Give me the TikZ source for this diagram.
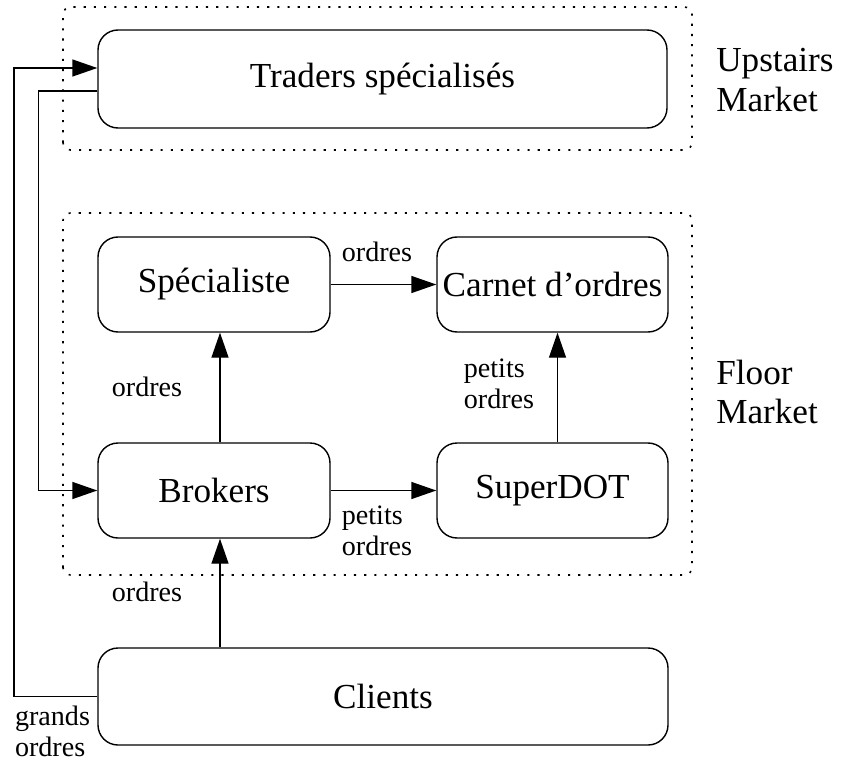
\documentclass[tikz,border=0pt]{standalone}
\usepackage{fontspec}
\setmainfont{Liberation Serif}
\usetikzlibrary{positioning,calc,arrows.meta}

\begin{document}
\begin{tikzpicture}[bloc/.style={draw,line width=0.8pt,rounded corners=0.4cm,inner sep=0pt,minimum height=1.9cm,font=\fontsize{20}{22}\selectfont},
	zone/.style={line width=0.9pt,dash pattern=on 1.2pt off 4.6pt,rounded corners=0.15cm},
	fleche/.style={line width=0.8pt,-{Triangle[length=5mm,width=3.4mm]}},
	lbl/.style={font=\fontsize{16}{17.5}\selectfont,align=left,inner sep=0pt},
	marche/.style={font=\fontsize{20}{22.5}\selectfont,align=left,anchor=west,inner sep=0pt}]
%		\draw[lightgray] (0,0) grid (17,15);
		\useasboundingbox (0,0) rectangle (16.84,15.26);
		% zones
		\draw[zone] (1.26,12.26) rectangle (13.84,15.12);
		\draw[zone] (1.26,3.76) rectangle (13.84,11.0);
		\node[marche] (upstairs) at (14.32,13.66) {Upstairs\\Market};
		\node[marche] (floor) at (14.32,7.42) {Floor\\Market};
		% boites
		\node[bloc,minimum width=11.38cm,minimum height=1.96cm] (traders) at (7.65,13.68) {Traders spécialisés};
		\node[bloc,minimum width=4.64cm] (specialiste) at (4.28,9.57) {Spécialiste};
		\node[bloc,minimum width=4.62cm] (carnet) at (11.05,9.57) {Carnet d’ordres};
		\node[bloc,minimum width=4.64cm] (brokers) at (4.28,5.45) {Brokers};
		\node[bloc,minimum width=4.62cm] (superdot) at (11.05,5.45) {SuperDOT};
		\node[bloc,minimum width=11.4cm,minimum height=1.94cm] (clients) at (7.66,1.33) {Clients};
		% fleches
		\draw[fleche] (specialiste) -- (carnet);
		\draw[fleche] (brokers) -- (superdot);
		\draw[fleche] ([xshift=1.2mm]brokers.north) -- ([xshift=1.2mm]specialiste.south);
		\draw[fleche] ([xshift=1mm]superdot.north) -- ([xshift=1mm]carnet.south);
		\draw[fleche] ([xshift=1.2mm]brokers.south |- clients.north) -- ([xshift=1.2mm]brokers.south);
		\coordinate (exterieur) at (0.28,0);
		\coordinate (interieur) at (0.77,0);
		\draw[fleche] (clients.west) -- (clients.west -| exterieur) |- ([yshift=2.2mm]traders.west);
		\draw[fleche] ([yshift=-2.4mm]traders.west) -- ([yshift=-2.4mm]traders.west -| interieur) |- (brokers.west);
		% etiquettes
		\node[lbl] (o1) at (7.54,10.22) {ordres};
		\node[lbl] (o2) at (2.94,7.52) {ordres};
		\node[lbl] (p1) at (9.98,7.58) {petits\\ordres};
		\node[lbl] (p2) at (7.54,4.64) {petits\\ordres};
		\node[lbl] (o3) at (2.94,3.42) {ordres};
		\node[lbl] (g1) at (1.05,0.64) {grands\\ordres};
	\end{tikzpicture}
\end{document}
